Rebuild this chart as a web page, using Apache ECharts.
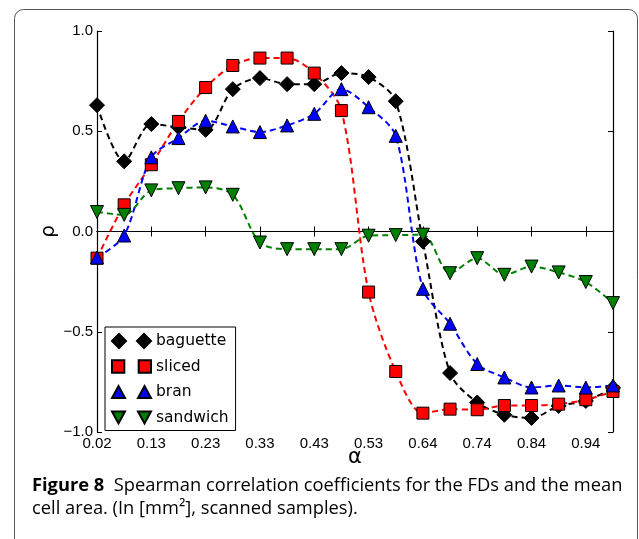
<!DOCTYPE html>
<html><head><meta charset="utf-8">
<script src="https://cdn.jsdelivr.net/npm/echarts@6/dist/echarts.min.js"></script>
<style>html,body{margin:0;padding:0;background:#fff}#c{width:639px;height:539px}</style>
</head><body><div id="c"></div>
<script>
const alphas = ['0.02','0.07','0.13','0.18','0.23','0.28','0.33','0.38','0.43','0.48','0.53','0.58','0.64','0.69','0.74','0.79','0.84','0.89','0.94','0.99'];
const baguette = [0.63,0.35,0.536,0.52,0.507,0.71,0.765,0.735,0.735,0.79,0.77,0.65,-0.05,-0.706,-0.853,-0.914,-0.93,-0.87,-0.845,-0.78];
const sliced = [-0.133,0.133,0.333,0.549,0.718,0.828,0.865,0.865,0.79,0.603,-0.302,-0.698,-0.906,-0.886,-0.889,-0.868,-0.868,-0.861,-0.839,-0.798];
const bran = [-0.13,-0.02,0.37,0.466,0.552,0.524,0.496,0.529,0.587,0.71,0.62,0.477,-0.286,-0.46,-0.661,-0.728,-0.778,-0.768,-0.778,-0.768];
const sandwich = [0.097,0.083,0.205,0.216,0.22,0.183,-0.055,-0.088,-0.088,-0.088,-0.021,-0.018,-0.016,-0.208,-0.133,-0.216,-0.175,-0.204,-0.252,-0.357];

const F = 'DejaVu Sans';
const TF = '"Liberation Sans"';
function fmtY(v){ const s = Math.abs(v).toFixed(1); return v < 0 ? '\u2212' + s : s; }
function mk(name, data, color, symbol, size, rot){
  return {
    name, type:'line', data, smooth:0.3,
    symbol, symbolSize:size, symbolRotate:rot||0,
    lineStyle:{color, width:2, type:[6,4]},
    itemStyle:{color, borderColor:'#000', borderWidth:1},
    emphasis:{disabled:true}, animation:false
  };
}
const chart = echarts.init(document.getElementById('c'));
chart.setOption({
  animation:false,
  grid:{left:97, right:26, top:31, bottom:107},
  xAxis:[{
    type:'category', data:alphas, boundaryGap:false,
    name:'\u03b1', nameLocation:'middle', nameGap:15, nameMoveOverlap:false,
    nameTextStyle:{fontFamily:F, fontSize:21, color:'#000'},
    axisLine:{lineStyle:{color:'#000', width:1.2}},
    axisTick:{inside:true, interval:1, length:5, lineStyle:{color:'#000'}},
    axisLabel:{interval:1, fontFamily:TF, fontSize:15, color:'#000', margin:4},
    splitLine:{show:false}
  },{
    type:'category', data:alphas, boundaryGap:false, position:'top',
    axisLine:{lineStyle:{color:'#000', width:1.2}},
    axisTick:{inside:true, interval:1, length:5, lineStyle:{color:'#000'}},
    axisLabel:{show:false}, splitLine:{show:false}
  }],
  yAxis:[{
    type:'value', min:-1, max:1, interval:0.5,
    name:'\u03c1', nameLocation:'middle', nameGap:38, nameRotate:90, nameMoveOverlap:false,
    nameTextStyle:{fontFamily:F, fontSize:20, color:'#000'},
    axisLine:{show:true, lineStyle:{color:'#000', width:1.2}},
    axisTick:{show:true, inside:true, length:5, lineStyle:{color:'#000'}},
    axisLabel:{fontFamily:TF, fontSize:15, color:'#000', margin:4, formatter:fmtY},
    splitLine:{show:false}
  },{
    type:'value', min:-1, max:1, interval:0.5, position:'right',
    axisLine:{show:true, lineStyle:{color:'#000', width:1.2}},
    axisTick:{show:true, inside:true, length:5, lineStyle:{color:'#000'}},
    axisLabel:{show:false}, splitLine:{show:false}
  }],
  legend:{
    orient:'vertical', left:105, top:327,
    backgroundColor:'#fff', borderColor:'#000', borderWidth:1, borderRadius:0,
    padding:[6,7,5,6], itemGap:9.5, itemWidth:39, itemHeight:14,
    symbolRotate:0,
    textStyle:{fontFamily:F, fontSize:15.5, color:'#000'},
    data:[
      {name:'baguette', icon:'path://M0 7L7 0L14 7L7 14Z M25 7L32 0L39 7L32 14Z'},
      {name:'sliced', icon:'path://M0 0H12V12H0Z M26 0H38V12H26Z'},
      {name:'bran', icon:'path://M6.5 0L13 12L0 12Z M32.5 0L39 12L26 12Z'},
      {name:'sandwich', icon:'path://M0 0L13 0L6.5 12Z M26 0L39 0L32.5 12Z'}
    ]
  },
  series:[
    mk('baguette', baguette, '#000000', 'diamond', 15),
    mk('sliced', sliced, '#ff0000', 'rect', 12),
    mk('bran', bran, '#0000ff', 'triangle', 13),
    mk('sandwich', sandwich, '#008000', 'triangle', 13, 180)
  ],
  graphic:[
    {type:'rect', shape:{x:14.5, y:9.5, width:623, height:560, r:9}, style:{fill:'none', stroke:'#555', lineWidth:1}, silent:true, z:-10},
    {type:'text', x:32, y:486, style:{
      text:'{b|Figure 8}  Spearman correlation coefficients for the FDs and the mean',
      font:'18.3px "Open Sans"', fill:'#000', verticalAlign:'middle',
      rich:{b:{fontWeight:'bold', fontFamily:'Open Sans', fontSize:18.3, fill:'#000'}}
    }},
    {type:'text', x:32, y:509, style:{
      text:'cell area. (In [mm\u00b2], scanned samples).',
      font:'18.3px "Open Sans"', fill:'#000', verticalAlign:'middle'
    }}
  ]
});
</script></body></html>
